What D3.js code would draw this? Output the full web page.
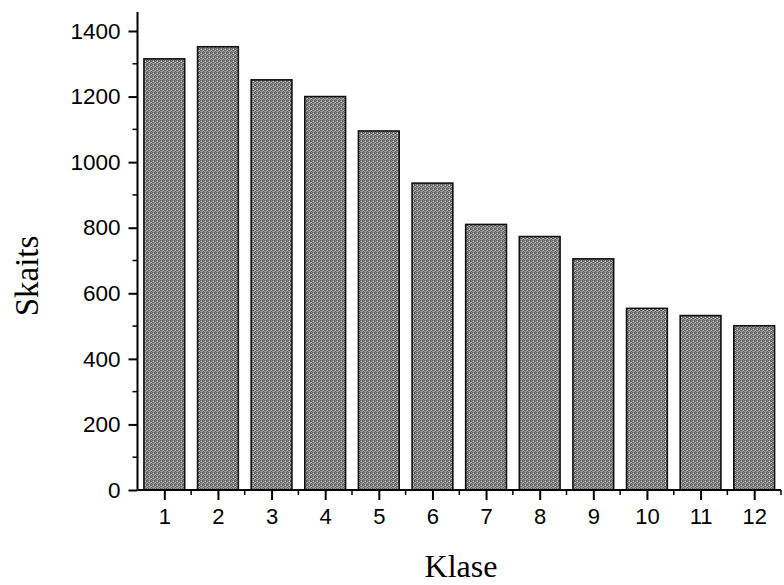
<!DOCTYPE html>
<html><head><meta charset="utf-8">
<script src="https://cdn.jsdelivr.net/npm/d3@7"></script>
<style>body{margin:0;background:#fff}svg{display:block}</style>
</head><body>
<svg id="c" width="784" height="585"></svg>
<script>
const categories = [1,2,3,4,5,6,7,8,9,10,11,12];
const values = [1315,1352,1251,1200,1095,936,810,773,705,554,532,501];
const yTicks = [0,200,400,600,800,1000,1200,1400];
const yMinor = [100,300,500,700,900,1100,1300];
const xLabel = "Klase", yLabel = "Skaits";

const svg = d3.select("#c");
const x = d3.scaleLinear().domain([0.5,12.5]).range([137.5,781]);
const y = d3.scaleLinear().domain([0,1400]).range([490,31]);

const defs = svg.append("defs");
const pat = defs.append("pattern").attr("id","dith").attr("width",4).attr("height",4).attr("patternUnits","userSpaceOnUse");
pat.append("rect").attr("width",4).attr("height",4).attr("fill","#9a9a9a");
[[0,0],[2,1],[1,2],[3,3],[2,0],[0,2],[3,1]].forEach(([a,b])=>pat.append("rect").attr("x",a).attr("y",b).attr("width",1).attr("height",1).attr("fill","#555"));
pat.append("rect").attr("x",1).attr("y",1).attr("width",1).attr("height",1).attr("fill","#dcdcdc");
pat.append("rect").attr("x",3).attr("y",2).attr("width",1).attr("height",1).attr("fill","#d0d0d0");

const bw = (x(1)-x(0))*0.76;
svg.append("g").selectAll("rect").data(categories).join("rect")
  .attr("x",(d)=>x(d)-bw/2).attr("width",bw)
  .attr("y",(d,i)=>y(values[i])).attr("height",(d,i)=>y(0)-y(values[i]))
  .attr("fill","url(#dith)").attr("stroke","#111").attr("stroke-width",1.6);

const tickFont = "Arial, 'Liberation Sans', sans-serif";
// y axis
const ya = svg.append("g").attr("transform","translate(137.5,0)")
  .call(d3.axisLeft(y).tickValues(yTicks).tickSize(9).tickPadding(8).tickFormat(d3.format("d")).tickSizeOuter(0));
ya.select(".domain").remove();
ya.append("line").attr("y1",490).attr("y2",12).attr("stroke","#000").attr("stroke-width",2);
ya.selectAll(".tick line").attr("stroke-width",2);
ya.selectAll(".tick text").attr("font-family",tickFont).attr("font-size",22.5).attr("fill","#000");
ya.selectAll(".minor").data(yMinor).join("line").attr("class","minor")
  .attr("x1",-5).attr("x2",0).attr("y1",d=>y(d)).attr("y2",d=>y(d)).attr("stroke","#000").attr("stroke-width",1.5);

// x axis
const xa = svg.append("g").attr("transform","translate(0,490)")
  .call(d3.axisBottom(x).tickValues(categories).tickSize(10).tickPadding(8).tickFormat(d3.format("d")).tickSizeOuter(0));
xa.select(".domain").remove();
xa.append("line").attr("x1",137.5).attr("x2",781).attr("stroke","#000").attr("stroke-width",2);
xa.selectAll(".tick line").attr("stroke-width",2);
xa.selectAll(".tick text").attr("font-family",tickFont).attr("font-size",22).attr("fill","#000");
xa.selectAll(".minor").data(categories.map(d=>d+0.5)).join("line").attr("class","minor")
  .attr("x1",d=>x(d)).attr("x2",d=>x(d)).attr("y1",0).attr("y2",5).attr("stroke","#000").attr("stroke-width",1.5);

svg.append("text").attr("x",461).attr("y",577).attr("text-anchor","middle")
  .attr("font-family","'Liberation Serif', 'Times New Roman', serif").attr("font-size",32).text(xLabel);
svg.append("text").attr("transform","translate(38,276) rotate(-90)").attr("text-anchor","middle")
  .attr("font-family","'Liberation Serif', 'Times New Roman', serif").attr("font-size",33).text(yLabel);
</script>
</body></html>
